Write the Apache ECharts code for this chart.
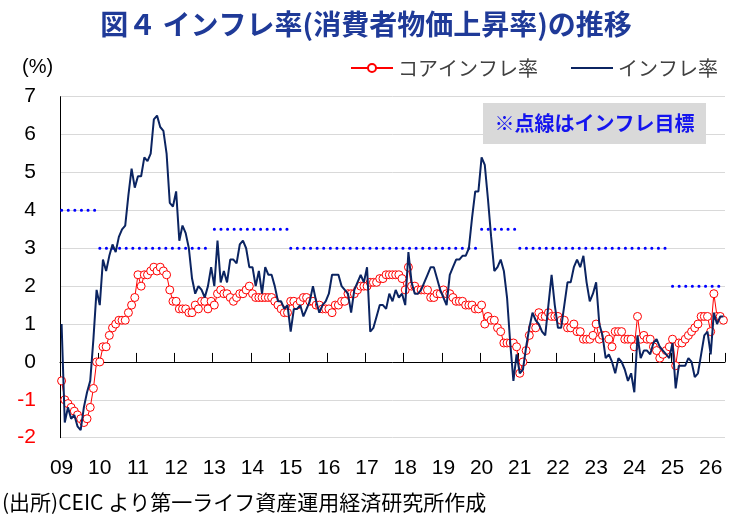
<!DOCTYPE html>
<html>
<head>
<meta charset="utf-8">
<script src="https://cdn.jsdelivr.net/npm/echarts@6/dist/echarts.min.js"></script>
<style>
  html, body { margin: 0; padding: 0; background: #fff; }
  #chart { width: 732px; height: 520px; }
</style>
</head>
<body>
<div id="chart"></div>
<script>
// 年ラベル（09 = 2009年）、最終年は5か月分
var yearLabels = ['09', '10', '11', '12', '13', '14', '15', '16', '17', '18', '19', '20', '21', '22', '23', '24', '25', '26'];
var lastYearMonths = 5;

// インフレ率（前年比、%）
var inflation = [
  1.0, -1.6, -1.2, -1.5, -1.4, -1.7, -1.8, -1.2, -0.8, -0.5, 0.6, 1.9,
  1.5, 2.7, 2.4, 2.8, 3.1, 2.9, 3.3, 3.5, 3.6, 4.4, 5.1, 4.6,
  4.9, 4.9, 5.4, 5.3, 5.5, 6.4, 6.5, 6.2, 6.1, 5.5, 4.2, 4.1,
  4.5, 3.2, 3.6, 3.4, 3.0, 2.2, 1.8, 2.0, 1.9, 1.7, 2.0, 2.5,
  2.0, 3.2, 2.1, 2.4, 2.1, 2.7, 2.7, 2.6, 3.1, 3.2, 3.0, 2.5,
  2.5, 2.0, 2.4, 1.8, 2.5, 2.3, 2.3, 2.0, 1.6, 1.6, 1.4, 1.5,
  0.8, 1.4, 1.4, 1.5, 1.2, 1.4, 1.6, 2.0, 1.6, 1.3, 1.5, 1.6,
  1.8, 2.3, 2.3, 2.3, 2.0, 1.9, 1.8, 1.3, 1.9, 2.1, 2.3, 2.1,
  2.5, 0.8, 0.9, 1.2, 1.5, 1.5, 1.4, 1.8, 1.6, 1.9, 1.7, 1.8,
  1.5, 2.9, 2.1, 1.8, 1.8, 1.9, 2.1, 2.3, 2.5, 2.5, 2.2, 1.9,
  1.7, 1.5, 2.3, 2.5, 2.7, 2.7, 2.8, 2.8, 3.0, 3.8, 4.5, 4.5,
  5.4, 5.2, 4.3, 3.3, 2.4, 2.5, 2.7, 2.4, 1.7, 0.5, -0.5, 0.2,
  -0.3, -0.2, 0.4, 0.9, 1.3, 1.1, 1.0, 0.8, 0.7, 1.5, 2.3, 1.5,
  0.9, 0.9, 1.5, 2.1, 2.1, 2.5, 2.7, 2.5, 2.8, 2.1, 1.6, 1.8,
  2.1, 1.0, 0.7, 0.1, 0.2, 0.0, -0.3, 0.1, 0.0, -0.2, -0.5, -0.3,
  -0.8, 0.7, 0.1, 0.3, 0.3, 0.2, 0.5, 0.6, 0.4, 0.3, 0.2, 0.1,
  0.5, -0.7, -0.1, -0.1, -0.1, 0.1, 0.0, -0.4, -0.3, 0.2, 0.7, 0.8,
  0.2, 1.3, 1.0, 1.2, 1.2
];

// コアインフレ率（前年比、%）
var coreInflation = [
  -0.5, -1.0, -1.1, -1.2, -1.3, -1.4, -1.5, -1.6, -1.5, -1.2, -0.7, 0.0,
  0.0, 0.4, 0.4, 0.7, 0.9, 1.0, 1.1, 1.1, 1.1, 1.3, 1.5, 1.7,
  2.3, 2.0, 2.3, 2.3, 2.4, 2.5, 2.4, 2.5, 2.4, 2.3, 1.9, 1.6,
  1.6, 1.4, 1.4, 1.4, 1.3, 1.3, 1.5, 1.4, 1.6, 1.6, 1.4, 1.6,
  1.5, 1.8, 1.9, 1.8, 1.8, 1.7, 1.6, 1.7, 1.8, 1.8, 1.9, 2.0,
  1.8, 1.7, 1.7, 1.7, 1.7, 1.7, 1.7, 1.6, 1.5, 1.4, 1.3, 1.3,
  1.6, 1.6, 1.5, 1.6, 1.7, 1.7, 1.6, 1.6, 1.5, 1.5, 1.4, 1.4,
  1.4, 1.3, 1.5, 1.5, 1.6, 1.6, 1.8, 1.8, 1.8, 1.9, 2.0, 2.0,
  2.0, 2.1, 2.1, 2.1, 2.2, 2.2, 2.3, 2.3, 2.3, 2.3, 2.3, 2.2,
  1.9, 2.5, 2.0, 2.0, 1.9, 1.9, 1.9, 1.9, 1.7, 1.7, 1.8, 1.8,
  1.9, 1.8, 1.8, 1.7, 1.6, 1.6, 1.6, 1.5, 1.5, 1.5, 1.4, 1.4,
  1.5, 1.0, 1.2, 1.1, 1.1, 0.9, 0.8, 0.5, 0.5, 0.5, 0.5, 0.4,
  -0.3, 0.0, 0.3, 0.7, 0.9, 0.9, 1.3, 1.2, 1.2, 1.3, 1.2, 1.2,
  1.2, 1.1, 1.1, 0.9, 0.9, 1.0, 0.8, 0.8, 0.6, 0.6, 0.6, 0.7,
  1.0, 0.6, 0.7, 0.7, 0.6, 0.4, 0.8, 0.8, 0.8, 0.6, 0.6, 0.6,
  0.4, 1.2, 0.6, 0.7, 0.6, 0.6, 0.4, 0.3, 0.1, 0.2, 0.3, 0.4,
  0.6, -0.1, 0.5, 0.5, 0.6, 0.7, 0.8, 0.9, 1.0, 1.2, 1.2, 1.2,
  0.8, 1.8, 1.2, 1.2, 1.1
];

// インフレ目標（点線）：水準と、開始・終了の月インデックス
var targetLevel = [4, 3, 3.5, 3, 3.5, 3, 2];
var targetFrom = [0, 12, 48, 72, 132, 144, 192];
var targetTo = [11, 47, 71, 131, 143, 191, 208];

var months = [];
yearLabels.forEach(function (y, k) {
  var n = k == yearLabels.length - 1 ? lastYearMonths : 12;
  for (var m = 1; m <= n; m++) months.push(y + '/' + m);
});

var jpFont = '"Noto Sans CJK JP", sans-serif';
var numFont = '"Liberation Sans", sans-serif';
var navy = '#0b2461';

var chart = echarts.init(document.getElementById('chart'));

var targetSeries = targetLevel.map(function (lv, k) {
  return {
    type: 'line',
    name: '目標' + k,
    data: [[targetFrom[k], lv], [targetTo[k], lv]],
    symbol: 'none',
    silent: true,
    z: 1,
    lineStyle: { color: '#0000ff', width: 3, type: [0.1, 6.5], cap: 'round' }
  };
});

var option = {
  animation: false,
  backgroundColor: '#fff',
  title: {
    text: '図４ インフレ率(消費者物価上昇率)の推移',
    left: 'center',
    top: 5,
    textStyle: { fontFamily: jpFont, fontSize: 28, fontWeight: 'bold', color: '#1f3a98' }
  },
  legend: {
    data: [
      { name: 'コアインフレ率' },
      { name: 'インフレ率', icon: 'path://M0,0 L42,0 L42,2 L0,2 Z' }
    ],
    right: 14,
    top: 58,
    padding: 0,
    itemWidth: 42,
    itemHeight: 10,
    itemGap: 33,
    textStyle: { fontFamily: jpFont, fontSize: 20, color: '#404040' }
  },
  grid: {
    left: 60,
    right: 7,
    top: 96.7,
    bottom: 82.3,
    containLabel: false,
    outerBoundsMode: 'none'
  },
  xAxis: [{
    type: 'category',
    data: months,
    boundaryGap: true,
    axisLine: { onZero: true, lineStyle: { color: '#000', width: 1 } },
    axisTick: { show: true, inside: true, length: 9, interval: 11, lineStyle: { color: '#000' } },
    axisLabel: { show: false },
    splitLine: { show: false }
  }, {
    type: 'category',
    data: months,
    position: 'bottom',
    boundaryGap: true,
    axisLine: { show: false, onZero: false },
    axisTick: { show: false },
    axisLabel: {
      interval: 11,
      margin: 20,
      fontFamily: numFont,
      fontSize: 21,
      color: '#000',
      formatter: function (v) { return v.split('/')[0]; }
    },
    splitLine: { show: false }
  }],
  yAxis: {
    type: 'value',
    min: -2,
    max: 7,
    interval: 1,
    axisLine: { show: true, lineStyle: { color: '#000', width: 1 } },
    axisTick: { show: false },
    axisLabel: {
      margin: 24,
      fontFamily: numFont,
      fontSize: 21,
      color: function (v) { return Number(v) < 0 ? '#ff0000' : '#000'; }
    },
    splitLine: { lineStyle: { color: '#d9d9d9', width: 1 } }
  },
  graphic: [{
    type: 'text',
    left: 22,
    top: 57,
    style: { text: '(%)', font: '20px ' + numFont, fill: '#000' }
  }, {
    type: 'group',
    left: 483,
    top: 103,
    children: [{
      type: 'rect',
      shape: { x: 0, y: 0, width: 223, height: 41 },
      style: { fill: '#d9d9d9' }
    }, {
      type: 'text',
      x: 111.5,
      y: 20.5,
      style: {
        text: '※点線はインフレ目標',
        font: 'bold 20px ' + jpFont,
        fill: '#1515ee',
        align: 'center',
        verticalAlign: 'middle'
      }
    }]
  }, {
    type: 'text',
    left: 2,
    top: 492,
    style: { text: '(出所)CEIC より第一ライフ資産運用経済研究所作成', font: '21px ' + jpFont, fill: '#000' }
  }],
  series: targetSeries.concat([{
    type: 'line',
    name: 'コアインフレ率',
    data: coreInflation,
    symbol: 'circle',
    symbolSize: 8,
    showAllSymbol: true,
    z: 2,
    itemStyle: { color: '#fff', borderColor: '#ff0000', borderWidth: 1 },
    lineStyle: { color: '#ff0000', width: 1 }
  }, {
    type: 'line',
    name: 'インフレ率',
    data: inflation,
    symbol: 'none',
    z: 3,
    itemStyle: { color: navy },
    lineStyle: { color: navy, width: 2 }
  }])
};

chart.setOption(option);
</script>
</body>
</html>
